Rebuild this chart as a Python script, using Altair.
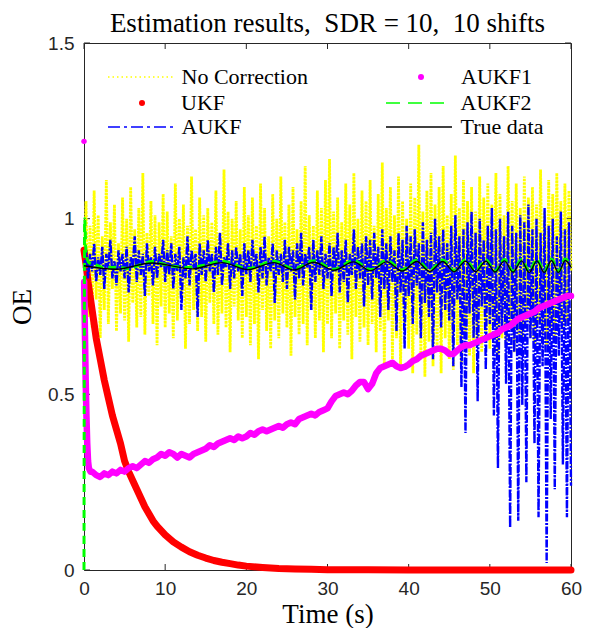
import altair as alt
import pandas as pd

# ---------------- data ----------------
X_TICKS = [0, 10, 20, 30, 40, 50, 60]
Y_TICKS = [0, 0.5, 1, 1.5]

# "No Correction" (yellow, dotted) sampled every 0.25 s
NO_CORR = [
    0.87, 1.05, 0.72, 0.98, 0.69, 1.08, 0.77, 1.01, 0.66, 0.95, 0.74, 1.11, 0.70, 0.99, 0.80, 1.04, 0.68, 0.93, 0.73, 1.06,
    0.71, 1.00, 0.65, 1.09, 0.76, 0.97, 0.69, 1.03, 0.72, 1.13, 0.67, 0.96, 0.78, 1.05, 0.70, 1.01, 0.64, 0.99, 0.75, 1.07,
    0.69, 1.02, 0.73, 0.95, 0.66, 1.10, 0.71, 1.00, 0.77, 1.04, 0.63, 0.98, 0.70, 1.12, 0.74, 0.97, 0.68, 1.06, 0.72, 1.01,
    0.65, 1.03, 0.76, 0.99, 0.70, 1.08, 0.67, 0.96, 0.73, 1.14, 0.69, 1.02, 0.62, 1.00, 0.75, 1.05, 0.71, 0.97, 0.66, 1.09,
    0.72, 1.01, 0.64, 1.06, 0.70, 0.98, 0.60, 1.10, 0.74, 1.03, 0.68, 0.95, 0.63, 1.07, 0.71, 1.00, 0.66, 1.12, 0.73, 0.99,
    0.69, 1.04, 0.61, 1.09, 0.72, 0.97, 0.67, 1.05, 0.70, 1.15, 0.64, 1.01, 0.74, 0.98, 0.66, 1.08, 0.71, 1.03, 0.62, 1.11,
    0.70, 1.17, 0.66, 1.02, 0.73, 1.06, 0.63, 0.99, 0.71, 1.10, 0.67, 1.04, 0.60, 1.13, 0.72, 1.00, 0.65, 1.08, 0.69, 1.05,
    0.64, 1.11, 0.70, 0.98, 0.62, 1.07, 0.68, 1.16, 0.58, 1.03, 0.71, 1.09, 0.60, 1.01, 0.66, 1.12, 0.57, 1.05, 0.69, 1.00,
    0.63, 1.10, 0.56, 1.06, 0.67, 1.21, 0.60, 1.02, 0.55, 1.08, 0.65, 1.13, 0.58, 1.04, 0.62, 1.09, 0.56, 1.15, 0.66, 1.01,
    0.60, 1.07, 0.57, 1.18, 0.64, 1.03, 0.59, 1.11, 0.67, 1.05, 0.61, 1.09, 0.56, 1.02, 0.66, 1.12, 0.62, 1.06, 0.68, 1.10,
    0.63, 1.04, 0.69, 1.13, 0.60, 1.07, 0.66, 1.01, 0.64, 1.15, 0.70, 1.05, 0.62, 1.10, 0.67, 1.03, 0.65, 1.12, 0.71, 1.06,
    0.66, 1.09, 0.63, 1.04, 0.70, 1.14, 0.67, 1.02, 0.64, 1.11, 0.69, 1.07, 0.66, 1.13, 0.72, 1.05, 0.68, 1.10, 0.70, 1.08,
    0.85,
]

# "AUKF" (blue, dash-dot) sampled every 0.25 s
AUKF = [
    0.86, 0.91, 0.83, 0.90, 0.85, 0.93, 0.82, 0.89, 0.84, 0.92, 0.80, 0.90, 0.86, 0.94, 0.83, 0.88, 0.81, 0.91, 0.85, 0.90,
    0.83, 0.92, 0.79, 0.89, 0.86, 0.95, 0.82, 0.91, 0.84, 0.90, 0.78, 0.93, 0.85, 0.89, 0.81, 0.92, 0.83, 0.90, 0.86, 0.94,
    0.82, 0.91, 0.84, 0.93, 0.80, 0.90, 0.85, 0.92, 0.74, 0.89, 0.83, 0.95, 0.81, 0.91, 0.86, 0.90, 0.72, 0.93, 0.84, 0.91,
    0.82, 0.94, 0.85, 0.90, 0.79, 0.92, 0.84, 0.96, 0.81, 0.89, 0.86, 0.93, 0.80, 0.91, 0.83, 0.92, 0.85, 0.90, 0.78, 0.93,
    0.84, 0.91, 0.82, 0.94, 0.86, 0.90, 0.79, 0.92, 0.83, 0.95, 0.81, 0.89, 0.85, 0.93, 0.76, 0.91, 0.84, 0.90, 0.82, 0.94,
    0.80, 0.92, 0.85, 0.91, 0.77, 0.93, 0.83, 0.96, 0.81, 0.90, 0.86, 0.92, 0.74, 0.94, 0.82, 0.91, 0.84, 0.95, 0.80, 0.90,
    0.83, 0.93, 0.78, 0.92, 0.85, 0.96, 0.79, 0.91, 0.82, 0.94, 0.76, 0.90, 0.84, 0.97, 0.80, 0.92, 0.83, 0.93, 0.75, 0.95,
    0.81, 0.94, 0.77, 0.96, 0.83, 0.92, 0.72, 0.97, 0.80, 0.93, 0.74, 0.95, 0.82, 0.91, 0.68, 0.96, 0.79, 0.94, 0.63, 0.98,
    0.78, 0.95, 0.70, 0.97, 0.81, 0.93, 0.66, 0.99, 0.76, 0.94, 0.72, 0.96, 0.60, 1.00, 0.79, 0.95, 0.69, 0.97, 0.74, 0.93,
    0.71, 0.98, 0.58, 1.01, 0.77, 0.95, 0.52, 0.97, 0.39, 0.99, 0.73, 1.02, 0.66, 0.96, 0.48, 1.00, 0.75, 0.94, 0.57, 0.98,
    0.70, 1.03, 0.44, 0.97, 0.29, 1.00, 0.68, 0.95, 0.53, 1.02, 0.12, 0.98, 0.62, 0.96, 0.14, 1.01, 0.47, 0.99, 0.25, 1.04,
    0.66, 0.97, 0.36, 1.00, 0.15, 0.96, 0.58, 1.03, 0.02, 0.98, 0.43, 1.00, 0.23, 0.95, 0.61, 1.02, 0.30, 0.97, 0.15, 0.99,
    0.24,
]

# "UKF" (red dots)
UKF_T = [0, 0.25, 0.5, 1, 1.5, 2, 2.5, 3, 3.5, 4, 4.5, 5, 5.5, 6, 6.5, 7, 7.5, 8, 8.5, 9,
         10, 11, 12, 13, 14, 15, 16, 17, 18, 19, 20, 22, 24, 26, 28, 30, 35, 40, 50, 60]
UKF_V = [0.91, 0.87, 0.82, 0.74, 0.66, 0.60, 0.54, 0.49, 0.44, 0.40, 0.36, 0.31, 0.28, 0.255, 0.23, 0.205, 0.18, 0.16, 0.14, 0.125,
         0.10, 0.08, 0.065, 0.052, 0.042, 0.034, 0.027, 0.022, 0.018, 0.014, 0.011, 0.007, 0.004, 0.003, 0.002, 0.001, 0.0005, 0, 0, 0]

# "AUKF1" (magenta dots): start, fast drop, then every 0.5 s from 1 s
AUKF1_T0 = [0, 0.02, 0.1, 0.2, 0.3, 0.4, 0.5, 0.6, 0.8]
AUKF1_V0 = [1.22, 0.82, 0.70, 0.55, 0.44, 0.36, 0.31, 0.29, 0.28]
AUKF1_V = [
    0.28, 0.27, 0.265, 0.275, 0.27, 0.28, 0.275, 0.285, 0.28, 0.29,
    0.295, 0.29, 0.30, 0.31, 0.305, 0.315, 0.32, 0.33, 0.325, 0.335,
    0.33, 0.32, 0.33, 0.325, 0.32, 0.33, 0.335, 0.34, 0.345, 0.355,
    0.35, 0.36, 0.365, 0.37, 0.375, 0.37, 0.38, 0.375, 0.38, 0.39,
    0.385, 0.395, 0.40, 0.395, 0.40, 0.405, 0.41, 0.405, 0.415, 0.42,
    0.415, 0.43, 0.435, 0.44, 0.445, 0.44, 0.45, 0.455, 0.46, 0.48,
    0.495, 0.50, 0.505, 0.50, 0.51, 0.525, 0.535, 0.535, 0.515, 0.53,
    0.56, 0.575, 0.58, 0.585, 0.59, 0.58, 0.575, 0.578, 0.585, 0.595,
    0.60, 0.61, 0.615, 0.62, 0.625, 0.63, 0.63, 0.625, 0.615, 0.615,
    0.625, 0.635, 0.64, 0.64, 0.645, 0.65, 0.655, 0.66, 0.665, 0.67,
    0.675, 0.685, 0.69, 0.695, 0.705, 0.715, 0.72, 0.725, 0.73, 0.735,
    0.745, 0.75, 0.755, 0.76, 0.765, 0.77, 0.775, 0.78, 0.78,
]

# "True data" (black) turning points
TRUE_T = [0, 3.9, 8.4, 13.3, 17.0, 20.2, 23.4, 25.9, 28.3, 30.8, 33.2, 35.3, 37.3, 39.2, 41.0, 42.6,
          44.2, 45.6, 47.0, 48.25, 49.5, 50.65, 51.8, 52.85, 53.9, 54.85, 55.8, 56.7, 57.6, 58.45, 59.3, 60.0]
TRUE_V = [0.866, 0.856, 0.874, 0.857, 0.875, 0.855, 0.875, 0.854, 0.876, 0.853, 0.877, 0.852, 0.877, 0.851, 0.878, 0.850,
          0.878, 0.849, 0.879, 0.849, 0.879, 0.848, 0.880, 0.848, 0.880, 0.847, 0.880, 0.847, 0.881, 0.847, 0.881, 0.862]

# "AUKF2" (green dashed)
AUKF2_T = [0, 0.08, 0.25, 0.6, 1.5, 2.6, 3.9, 5.5, 7.0, 8.4, 10.5, 13.3, 15.0, 17.0, 20.2, 23.4, 25.9, 28.3, 30.8, 33.2,
           35.3, 37.3, 39.2, 41.0, 42.6, 44.2, 45.6, 47.0, 48.25, 49.5, 50.65, 51.8, 52.85, 53.9, 54.85, 55.8, 56.7,
           57.6, 58.45, 59.3, 60.0]
AUKF2_V = [0.0, 1.00, 0.90, 0.875, 0.868, 0.860, 0.862, 0.858, 0.870, 0.878, 0.866, 0.861, 0.869, 0.879, 0.858, 0.879,
           0.857, 0.880, 0.856, 0.881, 0.855, 0.881, 0.854, 0.882, 0.853, 0.882, 0.852, 0.883, 0.852, 0.883, 0.851,
           0.884, 0.851, 0.884, 0.850, 0.885, 0.850, 0.885, 0.850, 0.885, 0.866]

# ---------------- tables ----------------
T_NOISY = [round(0.25 * i, 2) for i in range(len(NO_CORR))]
T_NOISY_B = [round(0.25 * i, 2) for i in range(len(AUKF))]
AUKF1_T = AUKF1_T0 + [round(1.0 + 0.5 * i, 2) for i in range(len(AUKF1_V))]

df_nc = pd.DataFrame({"t": T_NOISY, "v": NO_CORR, "s": "No Correction"})
df_ukf = pd.DataFrame({"t": UKF_T, "v": UKF_V, "s": "UKF"})
df_aukf = pd.DataFrame({"t": T_NOISY_B, "v": AUKF, "s": "AUKF"})
df_a1 = pd.DataFrame({"t": AUKF1_T, "v": AUKF1_V0 + AUKF1_V, "s": "AUKF1"})
df_a2 = pd.DataFrame({"t": AUKF2_T, "v": AUKF2_V, "s": "AUKF2"})
df_true = pd.DataFrame({"t": TRUE_T, "v": TRUE_V, "s": "True data"})
df_xt = pd.DataFrame({"t": X_TICKS})
df_yt = pd.DataFrame({"v": Y_TICKS})

W, H = 487, 527
SERIF = "Liberation Serif"
SANS = "Liberation Sans"
AX = "#262626"

xenc = alt.X("t:Q", scale=alt.Scale(domain=[0, 60], nice=False, zero=False),
             axis=alt.Axis(values=X_TICKS, title="Time (s)", format="d", labelFlush=False))
yenc = alt.Y("v:Q", scale=alt.Scale(domain=[0, 1.5], nice=False, zero=False),
             axis=alt.Axis(values=Y_TICKS, title="OE", format="~g", labelFlush=False))


def legend(x, y, **kw):
    return alt.Legend(orient="none", legendX=x, legendY=y, title=None, padding=0,
                      clipHeight=22, labelFont=SERIF, labelFontSize=22, labelColor="black",
                      labelLimit=400, **kw)


def color(name, col, leg):
    return alt.Color("s:N", scale=alt.Scale(domain=[name], range=[col]), legend=leg)


# inward ticks (MATLAB style)
tick_b = alt.Chart(df_xt).mark_rule(color=AX, strokeWidth=1).encode(x=xenc, y=alt.value(H), y2=alt.value(H - 6))
tick_t = alt.Chart(df_xt).mark_rule(color=AX, strokeWidth=1).encode(x=xenc, y=alt.value(0), y2=alt.value(6))
tick_l = alt.Chart(df_yt).mark_rule(color=AX, strokeWidth=1).encode(y=yenc, x=alt.value(0), x2=alt.value(6))
tick_r = alt.Chart(df_yt).mark_rule(color=AX, strokeWidth=1).encode(y=yenc, x=alt.value(W), x2=alt.value(W - 6))

L_SYM = 66 * 66

nc = alt.Chart(df_nc).mark_line(strokeWidth=2.8, strokeDash=[2.5, 1]).encode(
    x=xenc, y=yenc,
    color=color("No Correction", "#FFFF00",
                legend(23, 23, symbolType="stroke", symbolSize=L_SYM, symbolDash=[1.5, 3],
                       symbolStrokeWidth=1.5, labelOffset=6.5)))

ukf = alt.Chart(df_ukf).mark_line(strokeWidth=7, strokeCap="round", strokeJoin="round").encode(
    x=xenc, y=yenc,
    color=color("UKF", "#FF0000",
                legend(47, 49, symbolType="circle", symbolSize=36, symbolFillColor="#FF0000",
                       symbolStrokeWidth=0, labelOffset=28)))

aukf = alt.Chart(df_aukf).mark_line(strokeWidth=2.4, strokeDash=[8, 1.5, 2, 1.5]).encode(
    x=xenc, y=yenc,
    color=color("AUKF", "#0000FF",
                legend(23, 73, symbolType="stroke", symbolSize=L_SYM, symbolDash=[12, 4, 3, 4],
                       symbolStrokeWidth=1.5, labelOffset=6.5)))

a1_line = alt.Chart(df_a1).mark_line(strokeWidth=6.5, strokeCap="round", strokeJoin="round").encode(
    x=xenc, y=yenc,
    color=color("AUKF1", "#FF00FF",
                legend(326, 23, symbolType="circle", symbolSize=36, symbolFillColor="#FF00FF",
                       symbolStrokeWidth=0, labelOffset=29))).transform_filter("datum.t > 0")

a1_start = alt.Chart(df_a1).mark_circle(size=30, color="#FF00FF", opacity=1).encode(
    x=xenc, y=yenc).transform_filter("datum.t == 0")

a2 = alt.Chart(df_a2).mark_line(strokeWidth=3, strokeDash=[8, 5], interpolate="monotone").encode(
    x=xenc, y=yenc,
    color=color("AUKF2", "#00FF00",
                legend(301, 49, symbolType="stroke", symbolSize=L_SYM, symbolDash=[14, 8],
                       symbolStrokeWidth=1.5, labelOffset=7.5)))

true = alt.Chart(df_true).mark_line(strokeWidth=1.4, interpolate="monotone").encode(
    x=xenc, y=yenc,
    color=color("True data", "#000000",
                legend(301, 73, symbolType="stroke", symbolSize=L_SYM,
                       symbolStrokeWidth=1.5, labelOffset=7.5)))

chart = alt.layer(
    tick_b, tick_t, tick_l, tick_r, nc, ukf, aukf, a1_line, a1_start, a2, true
).resolve_scale(color="independent").properties(
    width=W, height=H,
    title=alt.TitleParams("Estimation results,\u2002SDR = 10,\u200210 shifts", font=SERIF, fontSize=27,
                          fontWeight="normal", color="black", offset=6, dy=10, anchor="middle",
                          frame="group"),
    autosize=alt.AutoSizeParams(type="none"),
    padding={"left": 76, "top": 35, "right": 11, "bottom": 58},
).configure_view(
    stroke=AX, strokeWidth=1
).configure_axis(
    grid=False, domain=False, ticks=False,
    labelFont=SANS, labelFontSize=19, labelColor=AX,
    titleFont=SERIF, titleFontSize=27, titleFontWeight="normal", titleColor="black",
).configure_axisX(
    labelPadding=9, titlePadding=3
).configure_axisY(
    labelPadding=10, titlePadding=11
)

chart.save("out.html", embed_options={"renderer": "svg", "actions": False})
